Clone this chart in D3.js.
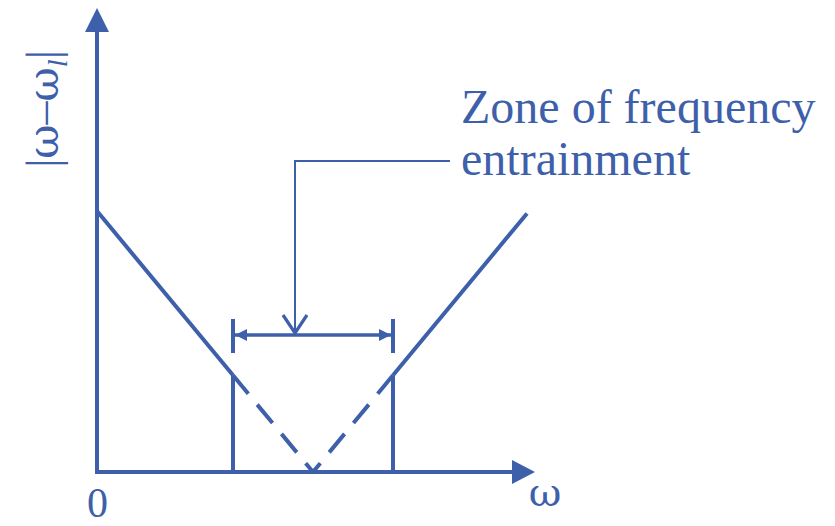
<!DOCTYPE html>
<html>
<head>
<meta charset="utf-8">
<script src="https://cdn.jsdelivr.net/npm/d3@7"></script>
<style>
  html, body { margin: 0; padding: 0; background: #ffffff; }
  svg { display: block; }
  text { font-family: "Liberation Serif", "Times New Roman", serif; fill: #3e60aa; }
  .greek { font-family: "DejaVu Serif", "Liberation Serif", serif; }
</style>
</head>
<body>
<svg id="chart" width="835" height="526"></svg>
<script>
// Frequency-entrainment diagram: |ω − ω_l| against ω
const omega = [0, 3.4, 5.4, 7.4, 10.75];          // ω sample points
const detuning = [5.4, 2.0, 0, 2.0, 5.35];        // |ω − ω_l| at each point
const zoneBounds = [3.4, 7.4];                    // edges of the entrainment zone
const xTicks = [0];
const annotationLines = ["Zone of frequency", "entrainment"];

const blue = "#3e60aa";
const svg = d3.select("#chart");

const x = d3.scaleLinear().domain([0, 10.95]).range([97, 535]);
const y = d3.scaleLinear().domain([0, 9.6]).range([472, 8]);

const pts = omega.map((w, i) => ({ w, d: detuning[i] }));
const line = d3.line().x(p => x(p.w)).y(p => y(p.d));

// zone edges (verticals up to the curve)
zoneBounds.forEach((b, i) => {
  const level = i === 0 ? detuning[1] : detuning[3];
  svg.append("line")
    .attr("x1", x(b)).attr("x2", x(b))
    .attr("y1", y(0) + 1).attr("y2", y(level))
    .attr("stroke", blue).attr("stroke-width", 4);
});

// solid branches of the curve
[[pts[0], pts[1]], [pts[4], pts[3]]].forEach(seg => {
  svg.append("path").attr("d", line(seg))
    .attr("fill", "none").attr("stroke", blue).attr("stroke-width", 4);
});

// dashed branches inside the zone, drawn toward the minimum
[[pts[1], pts[2]], [pts[3], pts[2]]].forEach(seg => {
  svg.append("path").attr("d", line(seg))
    .attr("fill", "none").attr("stroke", blue).attr("stroke-width", 4)
    .attr("stroke-dasharray", "24,14");
});

// axes with arrowheads
const axisG = svg.append("g");
axisG.append("line")
  .attr("x1", x(0)).attr("x2", x(0))
  .attr("y1", y(0) + 2).attr("y2", 30)
  .attr("stroke", blue).attr("stroke-width", 4);
axisG.append("path")
  .attr("d", `M${x(0)},8 L${x(0) - 12},32 L${x(0) + 12},32 Z`)
  .attr("fill", blue);
axisG.append("line")
  .attr("x1", x(0) - 2).attr("x2", 514)
  .attr("y1", y(0)).attr("y2", y(0))
  .attr("stroke", blue).attr("stroke-width", 4);
axisG.append("path")
  .attr("d", `M535,${y(0)} L512,${y(0) - 12} L512,${y(0) + 12} Z`)
  .attr("fill", blue);

// origin tick label
const xAxis = d3.axisBottom(x).tickValues(xTicks).tickSize(0).tickPadding(15)
  .tickFormat(d3.format("d"));
const gx = svg.append("g").attr("transform", `translate(0,${y(0)})`).call(xAxis);
gx.select(".domain").remove();
gx.selectAll("text")
  .attr("fill", blue)
  .style("font-family", '"Liberation Serif", "Times New Roman", serif')
  .style("font-size", "42px");

// axis titles
svg.append("text")
  .attr("class", "greek")
  .attr("x", 545).attr("y", 506)
  .attr("text-anchor", "middle")
  .style("font-size", "40px")
  .text("ω");

const yTitle = svg.append("text")
  .attr("transform", "translate(58,109) rotate(-90)")
  .attr("text-anchor", "middle")
  .style("font-size", "46px");
yTitle.append("tspan").text("|");
yTitle.append("tspan").attr("class", "greek").style("font-size", "42px").text("ω");
yTitle.append("tspan").text("–");
yTitle.append("tspan").attr("class", "greek").style("font-size", "42px").text("ω");
yTitle.append("tspan").attr("dy", 9).style("font-size", "28px").style("font-style", "italic").text("l");
yTitle.append("tspan").attr("dy", -9).text("|");

// bracket spanning the entrainment zone
const bracketY = 335;
const bx0 = x(zoneBounds[0]), bx1 = x(zoneBounds[1]);
svg.append("line")
  .attr("x1", bx0 + 2).attr("x2", bx1 - 2)
  .attr("y1", bracketY).attr("y2", bracketY)
  .attr("stroke", blue).attr("stroke-width", 3.5);
[bx0, bx1].forEach((bx, i) => {
  svg.append("line")
    .attr("x1", bx).attr("x2", bx)
    .attr("y1", bracketY - 16).attr("y2", bracketY + 18)
    .attr("stroke", blue).attr("stroke-width", 4);
  const s = i === 0 ? 1 : -1;
  svg.append("path")
    .attr("d", `M${bx + s * 2},${bracketY} L${bx + s * 14},${bracketY - 6} L${bx + s * 14},${bracketY + 6} Z`)
    .attr("fill", blue);
});

// leader from the caption down to the bracket
const leaderX = 295, leaderY = 161;
svg.append("path")
  .attr("d", `M450,${leaderY} H${leaderX} V${bracketY - 3}`)
  .attr("fill", "none").attr("stroke", blue).attr("stroke-width", 2);
svg.append("path")
  .attr("d", `M${leaderX - 12},${bracketY - 20} L${leaderX},${bracketY - 2} L${leaderX + 12},${bracketY - 20}`)
  .attr("fill", "none").attr("stroke", blue).attr("stroke-width", 3.2);

// caption
annotationLines.forEach((t, i) => {
  svg.append("text")
    .attr("x", 461).attr("y", 123 + i * 52)
    .style("font-size", "48px")
    .text(t);
});
</script>
</body>
</html>
